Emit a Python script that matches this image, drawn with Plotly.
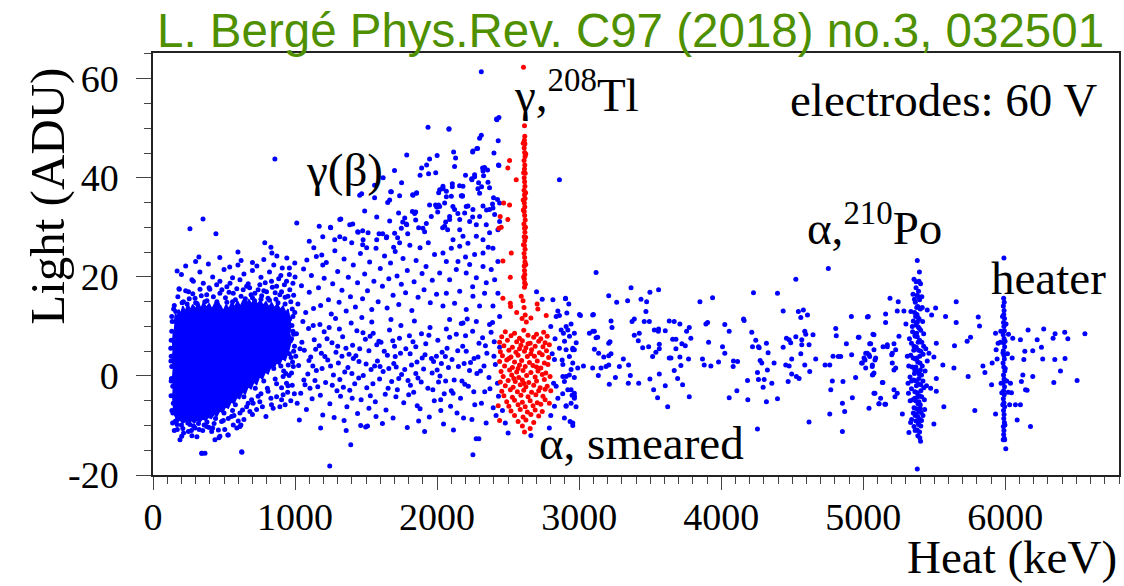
import plotly.graph_objects as go

# ---------------- data (Heat keV, Light ADU) ----------------
# outline of the saturated (solid) low-energy cluster
core_outline = [
    (150, 10.5), (158, 12.6), (170, 11.8), (182, 13.4), (195, 12.5), (210, 14.1), (228, 13.0), (245, 14.6), (262, 13.3),
    (280, 14.4), (300, 13.5), (318, 14.8), (338, 13.6), (356, 14.9), (375, 13.8), (395, 14.6), (415, 13.5), (436, 14.7),
    (455, 13.9), (475, 14.2), (495, 13.1), (515, 14.4), (535, 13.5), (555, 14.9), (575, 13.9), (595, 15.1), (615, 14.0),
    (635, 15.3), (655, 14.3), (675, 15.4), (695, 14.5), (715, 15.6), (735, 14.4), (755, 15.3), (775, 14.2), (795, 15.0),
    (815, 13.9), (835, 14.8), (855, 13.7), (875, 14.6), (895, 13.4), (915, 14.1), (935, 12.8), (950, 13.5), (962, 11.8),
    (970, 10.2), (962, 8.6), (972, 7.0), (958, 5.4), (948, 4.6), (930, 3.1), (910, 3.6), (890, 2.2), (870, 2.8),
    (850, 1.4), (830, 1.9), (810, 0.4), (790, 0.8), (770, -0.6), (750, -0.1), (730, -1.7), (710, -1.2), (690, -2.6),
    (670, -2.1), (650, -3.6), (630, -3.2), (610, -4.6), (590, -4.3), (570, -5.6), (550, -5.2), (530, -6.5), (510, -6.2),
    (490, -7.4), (470, -7.0), (450, -8.1), (430, -7.7), (410, -8.6), (390, -8.3), (370, -9.0), (350, -8.6), (330, -9.3),
    (310, -8.9), (290, -9.5), (270, -9.0), (250, -9.6), (230, -9.1), (210, -9.5), (190, -8.9), (172, -9.2), (158, -8.2),
    (148, -7.6), (143, -5.8), (139, -4.1), (144, -2.3), (138, -0.5), (143, 1.4), (137, 3.2), (142, 5.1), (138, 6.9),
    (144, 8.8),
]

blob_fringe = [
    (185, 17.5), (284, 19.1), (331, 17.5), (354, 18.7), (448, 18.4), (471, 19.1), (542, 18.7), (612, 19.4), (659, 18.1),
    (752, 18.4), (834, 19.1), (870, 18.1), (940, 19.1), (214, 15.0), (296, 15.7), (378, 16.4), (471, 16.7), (565, 16.7),
    (635, 17.4), (717, 16.7), (799, 17.0), (893, 16.4), (963, 17.4), (132, 9.0), (125, 5.6), (132, 1.9), (139, -2.1),
    (143, -5.5), (155, -9.2), (171, -10.8), (190, -12.9), (202, -12.2), (249, -11.2), (296, -10.5), (343, -15.6),
    (366, -15.6), (624, -15.3), (378, -10.2), (413, -11.2), (471, -12.2), (530, -11.9), (565, -9.9), (612, -10.2),
    (553, -8.2), (483, -9.2), (682, -7.2), (729, -6.8), (795, -8.2), (846, -6.5), (893, -6.2), (916, -3.8), (870, -4.2),
    (834, -5.8), (752, -5.2), (694, -4.8), (612, -7.5), (659, -6.2), (940, -1.5), (975, 0.6), (952, 2.2), (916, -0.1),
    (344, -15.6), (626, -15.4), (274, -12.1), (436, -12.9), (464, -12.5), (527, -11.9), (590, -10.5), (619, -9.9),
    (309, -12.3), (352, 31.7), (260, 29.7), (443, 28.7), (323, 24.0), (598, 25.0), (598, 22.4), (274, 19.4), (183, 17.6),
    (787, 26.9), (830, 26.0), (837, 24.8), (872, 24.2), (942, 23.8), (998, 22.8), (731, 22.2), (858, 43.8),
    (200, 20.5), (330, 21.0), (420, 20.0), (500, 21.5), (560, 19.8), (640, 20.6), (700, 21.3), (760, 19.9), (820, 21.0),
    (900, 20.3), (960, 21.8), (250, 17.0), (400, 17.5), (520, 18.0), (680, 17.8), (780, 17.2), (860, 16.8), (930, 15.9),
    (1000, 20.0), (160, 13.0), (240, 14.5), (300, 14.8), (380, 15.2), (450, 15.0), (520, 14.9), (580, 15.4), (650, 15.6),
    (700, 15.8), (760, 15.5), (820, 15.3), (880, 14.8), (930, 14.5), (980, 13.5), (985, 9.0), (990, 5.0), (960, 4.5),
    (900, 2.0), (850, 1.5), (780, -1.0), (720, -2.5), (640, -4.2), (580, -5.8), (500, -7.5), (440, -8.6), (380, -9.3),
    (320, -9.6), (260, -9.8), (200, -9.9), (165, -9.0), (140, -7.5), (128, -1.0), (128, 4.0), (135, 11.0),
    (985, 12.0), (975, 7.5), (982, 2.8), (935, 0.5), (905, -2.4), (860, -0.6), (810, -3.1), (760, -3.6), (705, -5.5),
    (640, -8.8), (560, -7.0), (505, -10.8), (420, -10.5), (350, -11.0), (270, -11.0), (215, -11.5), (150, -11.0),
]

blob_edge_more = [
    (150, 14.2), (175, 16.0), (205, 14.8), (230, 17.2), (255, 15.6), (280, 16.6), (310, 14.6), (340, 16.2), (365, 15.0),
    (395, 17.8), (425, 16.0), (455, 14.4), (485, 17.4), (510, 15.8), (535, 16.9), (560, 15.0), (590, 17.6), (620, 16.1),
    (645, 14.9), (670, 18.6), (690, 16.4), (715, 15.2), (740, 17.4), (765, 16.2), (790, 18.8), (810, 15.7), (840, 17.9),
    (865, 15.5), (885, 19.6), (905, 17.0), (925, 18.4), (950, 16.1), (970, 15.0), (985, 18.7), (990, 16.3), (960, 20.5),
    (910, 21.8), (850, 22.4), (780, 23.5), (700, 22.9), (620, 23.3), (540, 22.0), (470, 23.9), (390, 22.6), (300, 23.1),
    (230, 22.2), (170, 21.2), (962, 11.5), (978, 10.2), (990, 8.4), (968, 7.1), (996, 6.0), (972, 3.7), (988, 1.9),
    (958, 0.1), (980, -1.9), (948, -3.3), (970, -5.0), (930, -5.8), (995, -3.6), (998, 12.8), (170, -9.8), (210, -10.6),
    (245, -9.5), (285, -10.1), (325, -10.8), (360, -9.9), (395, -10.4), (430, -9.6), (460, -10.9), (495, -9.0),
    (530, -8.6), (570, -8.0), (600, -9.1), (630, -6.9), (670, -5.5), (700, -7.8), (740, -4.1), (770, -6.2), (805, -2.5),
    (830, -4.5), (870, -1.6), (905, -4.8), (920, 1.0), (950, -2.0), (132, 12.0), (128, 7.2), (126, 3.0), (130, -0.5),
    (127, -4.0), (133, -7.0), (138, -9.5), (145, 13.5),
]

gamma_low = [
    (1010, 8.5), (1025, 2.1), (1040, -3.5), (1055, 11.0), (1065, 5.2), (1080, -6.8), (1090, 0.4), (1030, -8.9), (1070, -1.8),
    (1095, 9.6), (1110, 3.8), (1120, -4.6), (1135, 7.3), (1150, 1.1), (1160, -2.2), (1175, 10.4), (1185, 4.6), (1195, -7.9),
    (1140, -0.9), (1170, 6.1), (1205, 8.9), (1215, -1.3), (1230, 3.2), (1245, -5.6), (1260, 6.7), (1270, 0.2), (1285, 11.6),
    (1295, -3.0), (1240, 9.8), (1275, -8.4), (1244, -18.2), (1392, -13.9), (1462, -10.0), (1497, -10.3),
    (1305, 2.6), (1320, -4.1), (1335, 7.9), (1350, 0.8), (1365, -6.2), (1380, 4.4), (1395, 10.7), (1315, -0.7), (1345, -9.0),
    (1385, -2.9), (1405, 6.2), (1420, -1.6), (1435, 9.1), (1450, 2.9), (1465, -4.8), (1480, 0.1), (1495, 7.4), (1440, -7.6),
    (1470, 11.8), (1410, 3.5), (1505, -2.4), (1520, 5.1), (1535, 1.3), (1550, 8.6), (1565, -5.2), (1580, 3.0), (1595, -0.6),
    (1540, 10.9), (1570, -8.2), (1510, -10.1), (1605, 6.8), (1620, 0.9), (1635, -3.7), (1650, 4.2), (1665, 9.3), (1680, -1.1),
    (1695, 2.5), (1640, -6.9), (1675, 11.4), (1615, -9.6), (1705, 3.9), (1720, -2.8), (1735, 7.6), (1750, 0.3), (1765, -5.4),
    (1780, 5.5), (1795, -0.9), (1745, 10.2), (1790, -10.4), (1712, 1.8), (1805, 8.1), (1820, 2.2), (1835, -3.3), (1850, 5.9),
    (1865, -0.4), (1880, -6.6), (1895, 3.6), (1840, 11.1), (1870, -9.1), (1812, -1.9), (1905, 1.4), (1920, 6.5), (1935, -2.5),
    (1950, 9.8), (1965, 0.6), (1980, -5.0), (1995, 4.0), (1945, -8.3), (1975, 2.9), (1912, -11.2), (2005, 7.2), (2020, 0.0),
    (2035, 4.8), (2050, -3.6), (2065, 9.5), (2080, 1.7), (2095, -6.1), (2045, -9.7), (2070, 5.6), (2010, -1.2), (2105, 3.3),
    (2120, -0.8), (2135, 8.4), (2150, 1.9), (2165, -4.5), (2180, 6.0), (2195, -1.7), (2140, -7.5), (2170, 10.6), (2115, -10.9),
    (2205, 5.0), (2220, -2.1), (2235, 2.7), (2250, 9.0), (2265, -5.8), (2280, 0.5), (2295, 6.6), (2245, -8.8), (2275, -12.7),
    (2212, 11.5), (2294, -12.7), (2252, -15.9), (2305, 1.0), (2320, 7.7), (2335, -3.2), (2350, 4.6), (2365, -0.3), (2380, 8.8),
    (2395, -6.4), (2410, 2.3), (2425, -1.5), (2440, 5.8), (2345, -9.5), (2415, -8.0), (2390, 10.8),
    (1035, 5.5), (1105, -2.5), (1190, 1.5), (1250, 2.0), (1330, 4.0), (1400, 0.5), (1455, 5.5), (1530, -4.0), (1590, 7.0),
    (1660, 1.5), (1730, -0.5), (1810, 4.5), (1890, 8.5), (1960, 3.5), (2030, 2.5), (2100, -3.0), (2190, 2.5), (2260, 3.5),
    (2330, 2.0), (2400, 4.0), (1015, -5.5), (1125, 2.0), (1300, 6.0), (1560, 2.0), (1700, 6.0), (1850, 0.5), (2060, -1.0),
    (1005, 4.0), (1048, 6.8), (1062, -0.8), (1098, 3.1), (1128, 10.2), (1145, 5.4), (1178, -3.9), (1210, 3.9), (1225, 7.5),
    (1262, -1.9), (1288, 4.8), (1312, 9.5), (1340, -2.3), (1358, 5.6), (1372, 1.7), (1402, -4.5), (1428, 4.1), (1448, -0.4),
    (1478, 8.7), (1500, 2.4), (1528, 8.0), (1548, -1.6), (1575, 6.3), (1598, 1.9), (1628, 5.0), (1655, -2.5), (1688, 7.1),
    (1710, -4.2), (1742, 4.6), (1772, 1.3), (1800, -3.8), (1830, 6.9), (1858, 2.8), (1888, -1.2), (1915, 4.3), (1942, 8.2),
    (1970, -2.8), (2000, 1.2), (2025, -4.8), (2058, 3.9), (2088, 7.8), (2112, -3.5), (2145, 5.1), (2175, -1.0), (2200, 8.1),
    (2228, 1.1), (2258, -3.2), (2288, 3.8), (2312, -5.5), (2340, 6.1), (2372, -2.6), (2402, 6.9), (2432, -4.1),
    (2186, -8.5), (2026, -7.0), (1860, -6.0), (1690, -8.5), (1520, -6.5), (1360, -11.0), (1180, -10.5),
]

gamma_high = [
    (1786, 44.6), (1947, 43.8), (1926, 42.6), (1891, 42.0), (1940, 40.8), (1469, 36.8), (1673, 37.2), (1666, 35.5),
    (1652, 35.0), (1856, 37.0), (1828, 36.6), (2039, 37.8), (2011, 37.0), (1490, 33.3), (1575, 32.1), (1729, 32.9),
    (1849, 33.1), (1947, 34.5), (1997, 34.1), (2004, 33.1), (1012, 30.9), (1322, 31.7), (1251, 29.9), (1195, 28.1),
    (1279, 27.5), (1315, 28.1), (1350, 27.7), (1083, 23.4), (1132, 25.9), (1188, 24.4), (1195, 22.4), (1385, 30.5),
    (1406, 30.7), (1441, 29.1), (1476, 29.3), (1399, 26.9), (1476, 26.5), (1504, 25.9), (1575, 27.5), (1617, 28.7),
    (1645, 28.1), (1666, 31.3), (1758, 31.1), (1772, 31.9), (1849, 31.5), (1870, 29.9), (1912, 29.1), (1786, 30.5),
    (1793, 28.7), (1722, 27.9), (1736, 26.9), (1694, 26.0), (2011, 34.5), (2060, 31.1), (2039, 29.9), (2074, 29.5),
    (1936, 50.2), (2083, 49.8), (1249, 30.0), (1455, 36.5), (1678, 37.2), (1736, 36.4), (1830, 36.5), (1854, 36.9),
    (1826, 33.2), (1842, 32.8), (1514, 28.9), (1591, 28.7), (1643, 27.9), (1701, 28.8), (1748, 29.8), (1783, 30.7),
    (1900, 29.8), (1924, 30.8), (1959, 32.2), (1989, 34.5), (2018, 34.2), (2065, 36.2), (2111, 34.2), (2088, 32.2),
    (2146, 32.8), (2177, 36.3), (2205, 34.2), (2107, 38.2), (2041, 37.9), (1315, 31.6), (1444, 29.0), (1479, 27.5),
    (2311, 61.4), (2421, 51.7), (2435, 52.2), (2084, 49.9), (2311, 48.6), (2299, 48.0), (2280, 45.9), (2252, 45.4),
    (2116, 45.2), (2130, 44.0), (2123, 42.3), (2435, 42.5), (2334, 42.1), (2323, 41.4), (2264, 40.2), (2245, 39.6),
    (2287, 37.8), (2299, 36.9), (2369, 38.0), (2358, 39.1), (2182, 38.3), (2170, 36.4), (2107, 38.8), (2065, 37.3),
    (2041, 38.3), (2440, 34.9), (2393, 33.9), (2405, 32.6), (2440, 31.2), (2428, 29.5), (2018, 37.6), (2053, 34.9),
    (2100, 36.3), (2123, 33.6), (2194, 32.9), (2159, 31.6), (2217, 34.3), (2252, 33.6), (2323, 34.3), (2299, 32.2),
    (2369, 33.6), (2346, 30.5), (2276, 30.5), (2229, 31.2), (2159, 29.5), (2088, 31.6), (2053, 30.2), (2112, 27.5),
    (2182, 28.2), (2276, 28.2), (2323, 27.5), (2369, 28.9), (2393, 25.8), (2323, 24.8), (2264, 24.5), (2217, 26.8),
    (2159, 26.2), (2100, 25.8), (2041, 24.8), (2065, 23.1), (2147, 23.1), (2229, 22.5), (2323, 22.1), (2381, 21.5),
    (2428, 23.1), (2018, 20.8), (2088, 19.4), (2135, 21.5), (2205, 20.8), (2276, 19.8), (2346, 18.8), (2405, 19.4),
    (2065, 16.7), (2159, 17.1), (2252, 16.1), (2334, 16.7), (2428, 16.7), (2041, 14.1), (2123, 14.7), (2205, 13.4),
    (2299, 14.1), (2393, 14.1), (2440, 12.0), (2088, 11.4), (2182, 10.7), (2276, 11.0), (2369, 10.4), (2418, 51.9),
    (2285, 45.9), (2250, 45.2), (2432, 42.6), (2320, 42.0), (2355, 41.6), (2264, 40.6), (2243, 39.8), (2327, 40.4),
    (2292, 39.0), (2313, 38.2), (2158, 38.4), (2179, 36.4), (2397, 36.0), (2425, 35.6), (2390, 34.7), (2348, 33.5),
    (2250, 32.1), (1020, 14.5), (1045, 18.2), (1060, 21.6), (1075, 12.8), (1100, 16.9), (1115, 20.3), (1130, 13.6),
    (1150, 24.1), (1165, 17.8), (1180, 14.2), (1205, 19.7), (1220, 22.9), (1235, 15.4), (1255, 12.5), (1265, 18.6),
    (1280, 25.3), (1300, 21.1), (1310, 14.9), (1330, 17.3), (1345, 23.6), (1360, 13.1), (1375, 19.9), (1390, 16.0),
    (1410, 22.4), (1425, 13.9), (1440, 18.8), (1460, 24.7), (1475, 15.6), (1490, 20.6), (1510, 17.2), (1525, 23.0),
    (1540, 13.4), (1555, 19.1), (1570, 25.8), (1585, 15.0), (1600, 21.7), (1615, 18.1), (1630, 24.2), (1648, 13.7),
    (1660, 19.6), (1672, 22.8), (1690, 16.3), (1705, 25.1), (1718, 20.2), (1730, 14.4), (1748, 18.5), (1760, 23.7),
    (1778, 16.8), (1790, 21.3), (1808, 26.4), (1822, 13.2), (1838, 19.0), (1852, 23.3), (1866, 15.9), (1880, 25.9),
    (1894, 20.7), (1908, 17.4), (1922, 22.1), (1938, 26.9), (1952, 14.8), (1966, 19.3), (1982, 24.5), (1996, 16.5),
    (1100, 27.2), (1170, 30.2), (1560, 38.5), (1620, 40.0), (1700, 41.5), (1750, 39.0), (1880, 40.5), (1990, 41.0),
    (2000, 44.5), (1560, 36.0), (2430, 47.5), (2400, 45.0), (2200, 40.5), (2360, 26.0), (2200, 24.0), (2250, 18.0),
]

blue_near_tl = [
    (2815, 15.4), (2904, 15.7), (2850, 13.1), (2838, 12.0), (2873, 9.3), (2908, 10.0), (2932, 8.0), (2897, 7.0),
    (2861, 5.6), (2955, 5.3), (2979, 6.7), (2826, 3.3), (2885, 2.3), (2943, 1.3), (2885, -0.1), (2838, -2.1),
    (2943, -2.8), (2967, -4.1), (2908, -6.1), (2955, -9.5), (2826, -6.1), (3002, 12.4), (3100, 12.4), (3096, 9.0),
    (3119, 7.7), (2861, 39.6), (3119, 20.9), (2903, 15.6), (2927, 14.5), (2913, 12.7), (2861, 12.2), (2943, 10.5),
    (2920, 9.3), (2889, 8.6), (2966, 8.6), (2955, 5.6), (2908, 5.3), (2966, 5.3), (2931, 3.9), (2955, 2.6),
    (2880, 3.2), (2931, 0.2), (2908, -0.1), (2966, -0.3), (2896, -1.1), (2920, -2.8), (2966, -3.5), (2884, -3.6),
    (2950, -3.9), (2966, -4.5), (2943, -5.5), (2978, -6.2), (2908, -6.0), (2896, -8.5), (2936, -9.2), (2955, -10.0),
    (3009, 12.2), (3030, 2.0), (2990, 1.6), (2810, 4.5), (2820, -1.5), (2830, 7.5), (2800, -8.0), (2790, -10.5),
    (2850, -4.5), (2800, 10.0), (2480, -9.5), (2460, -7.0), (2500, -11.5), (2700, 17.0), (2740, 15.5), (2660, -12.0),
]

red_tl = [
    (2608, 62.3), (2615, 50.5), (2617, 48.4), (2614, 47.6), (2618, 46.9), (2613, 46.0), (2616, 45.1), (2619, 44.3),
    (2612, 43.5), (2617, 42.6), (2615, 41.8), (2620, 40.9), (2613, 40.0), (2616, 39.2), (2618, 38.3), (2612, 37.5),
    (2615, 36.6), (2619, 35.8), (2614, 34.9), (2617, 34.1), (2613, 33.2), (2616, 32.4), (2620, 31.5), (2611, 30.7),
    (2615, 29.8), (2618, 29.0), (2613, 28.1), (2617, 27.3), (2614, 26.4), (2619, 25.6), (2612, 24.7), (2616, 23.9),
    (2618, 23.0), (2613, 22.2), (2615, 21.3), (2617, 20.5), (2614, 19.6), (2616, 18.8), (2615, 17.9),
    (2606, 47.0), (2624, 44.8), (2609, 41.0), (2623, 37.0), (2607, 33.5), (2622, 30.0), (2608, 26.5), (2624, 22.5),
    (2609, 20.0), (2621, 18.5), (2606, 35.5), (2623, 28.0),
    (2510, 43.5), (2498, 42.0), (2557, 39.6), (2468, 34.9), (2510, 34.5), (2444, 32.2), (2498, 31.6), (2451, 30.0),
    (2435, 29.8), (2522, 24.8), (2463, 23.2), (2515, 19.9), (2463, 15.7), (2515, 14.7), (2517, 14.0), (2592, 16.1),
    (2704, 14.5), (2709, 13.5), (2768, 12.2), (2605, 15.2), (2612, 13.8), (2620, 12.3), (2598, 11.6), (2628, 10.9),
    (2560, 12.8), (2660, 11.7),
]

red_alpha = [
    (2480, 8.9), (2545, 8.6), (2610, 9.2), (2700, 8.4), (2750, 8.8), (2455, 7.9), (2520, 8.1), (2580, 7.6), (2640, 8.2),
    (2680, 7.8), (2730, 7.5), (2775, 8.0), (2440, 6.8), (2495, 7.2), (2560, 6.9), (2600, 7.1), (2655, 6.6), (2715, 7.0),
    (2760, 6.7), (2470, 6.1), (2530, 5.8), (2590, 6.2), (2625, 5.7), (2690, 6.0), (2745, 5.9), (2790, 6.3), (2445, 4.9),
    (2505, 5.2), (2555, 4.8), (2615, 5.0), (2665, 5.3), (2720, 4.7), (2770, 5.1), (2460, 4.1), (2520, 3.8), (2570, 4.2),
    (2635, 3.9), (2685, 4.0), (2740, 4.3), (2785, 3.7), (2440, 2.9), (2490, 3.2), (2545, 2.8), (2595, 3.1), (2650, 2.7),
    (2705, 3.0), (2755, 2.6), (2475, 2.0), (2530, 1.7), (2580, 2.2), (2620, 1.9), (2675, 2.1), (2730, 1.6), (2780, 2.3),
    (2450, 0.9), (2510, 1.2), (2560, 0.8), (2605, 1.1), (2660, 0.7), (2710, 1.0), (2765, 0.6), (2465, -0.1), (2525, 0.2),
    (2575, -0.3), (2630, 0.1), (2690, -0.2), (2740, 0.3), (2795, -0.1), (2445, -1.2), (2500, -0.9), (2550, -1.1),
    (2600, -0.8), (2645, -1.3), (2700, -1.0), (2755, -0.7), (2480, -2.0), (2535, -2.3), (2585, -1.8), (2625, -2.2),
    (2680, -1.9), (2725, -2.4), (2775, -2.1), (2455, -3.1), (2515, -2.8), (2565, -3.2), (2610, -2.9), (2665, -3.3),
    (2715, -3.0), (2760, -2.7), (2470, -4.0), (2530, -4.3), (2590, -3.9), (2640, -4.2), (2695, -3.8), (2745, -4.1),
    (2490, -5.2), (2545, -4.9), (2600, -5.3), (2655, -5.0), (2705, -5.4), (2760, -4.8), (2505, -6.1), (2570, -5.8),
    (2620, -6.2), (2675, -6.0), (2730, -5.7), (2520, -7.1), (2585, -6.8), (2635, -7.3), (2690, -6.9), (2740, -7.2),
    (2545, -8.0), (2605, -8.3), (2660, -7.8), (2715, -8.1), (2570, -9.2), (2625, -8.9), (2680, -9.4), (2600, -10.1),
    (2655, -10.6), (2615, -11.3), (2430, -6.0), (2440, -9.0), (2790, -5.5), (2800, -3.0),
    (2505, 3.5), (2580, 5.5), (2660, 4.5), (2540, -0.5), (2700, 1.8), (2610, -1.5), (2570, 1.5), (2640, 6.5),
]

high_energy = [
    (3095, 12.3), (3107, 9.0), (3130, 7.8), (3072, 8.6), (3107, 5.4), (3137, 4.6), (3095, 1.6), (3154, 1.6), (3135, 0.1),
    (3212, -1.7), (3208, 2.2), (3189, 1.9), (3224, 4.5), (3208, 4.1), (3173, 3.8), (3311, 3.4), (3283, 1.9), (3255, -0.3),
    (3348, 2.2), (3360, 0.1), (3346, -1.5), (3419, -1.5), (3208, 16.2), (3264, 14.9), (3341, 15.2), (3365, 17.8),
    (3435, 15.5), (3475, 15.0), (3470, 13.0), (3498, 16.9), (3559, 17.4), (3224, 11.1), (3231, 9.8), (3217, 6.9),
    (3208, 6.6), (3372, 11.0), (3388, 11.5), (3423, 8.6), (3458, 11.0), (3494, 11.0), (3388, 8.2), (3416, 7.1),
    (3447, 5.7), (3489, 5.9), (3517, 3.9), (3540, 4.8), (3564, 5.5), (3564, 6.4), (3559, 9.5), (3529, 9.3), (3557, 9.0),
    (3606, 9.1), (3634, 11.1), (3669, 11.0), (3709, 10.5), (3658, 7.4), (3681, 7.4), (3681, 5.5), (3723, 6.5),
    (3747, 6.1), (3786, 7.6), (3775, 9.8), (3756, 9.0), (3634, 3.6), (3646, 3.6), (3709, 3.8), (3770, 3.4), (3716, 2.1),
    (3669, 1.1), (3564, 0.4), (3498, -0.6), (3524, -2.8), (3552, -4.4), (3623, -6.2), (3693, -0.5), (3728, -1.8),
    (3775, -4.2), (3606, -2.0), (3850, 15.0), (3939, 15.8), (3892, 10.5), (3911, 6.8), (3868, 3.4), (3880, 2.2),
    (3927, 2.0), (3904, 10.8), (3981, 2.8), (4009, 5.9), (4025, 4.6), (4025, 10.4), (4056, 9.0), (4086, 3.0),
    (4115, 2.9), (4084, 1.9), (4056, -4.4), (4110, -3.0), (4157, 11.5), (4161, 11.2), (4185, -0.9), (4187, -4.8),
    (4215, 8.8), (4220, 5.9), (4243, 7.2), (4262, 5.9), (4255, 0.7), (4262, -0.7), (4267, 5.7), (4274, 3.1),
    (4286, 2.6), (4302, -0.7), (4295, -2.3), (4318, 6.6), (4330, 4.7), (4325, 1.2), (4356, -1.5), (4318, -5.2),
    (4396, -4.6), (4372, 2.6), (4227, 16.8), (4255, -10.7), (4396, 16.7), (4436, 13.1), (4543, 13.0), (4578, 13.3),
    (4560, 11.8), (4607, 12.3), (4525, 7.9), (4459, 7.6), (4489, 6.7), (4478, 7.3), (4436, 5.8), (4496, 3.4),
    (4454, 2.2), (4478, 2.0), (4588, 9.0), (4595, 8.4), (4567, 7.3), (4567, 6.3), (4618, 6.3), (4646, 8.3),
    (4560, 4.5), (4588, 2.2), (4623, 0.9), (4496, 0.4), (4529, -0.1), (4548, -0.5), (4471, -1.1), (4618, -9.3),
    (4665, 3.4), (4525, 19.5), (4754, 21.7), (4731, 2.2), (4764, 2.2), (4787, 4.0), (4824, 3.9), (4841, 3.9),
    (4806, 9.6), (4810, 8.1), (4782, -1.0), (4771, -2.8), (4764, -7.7), (4857, -1.1), (4853, -5.5), (4869, -7.2),
    (4853, -11.2), (4923, -4.4), (4916, 12.0), (4881, 6.5), (4918, 4.3), (4946, -0.3), (4965, 7.8), (4988, 2.6),
    (5012, 3.2), (5028, 4.6), (5035, 12.0), (5045, 6.5), (5045, 3.9), (5063, 1.9), (5082, 3.2), (5075, 8.3),
    (5068, 0.3), (5040, -6.5), (5082, -3.5), (5122, -4.5), (5110, -5.6), (5152, -5.7), (5138, -1.3), (5169, 5.9),
    (5157, 10.8), (5157, 12.5), (5188, 15.7), (5204, 4.6), (5204, 2.6), (5216, 1.2), (5216, -2.8), (5223, -4.2),
]

po_heater_side = [
    (4970, 7.8), (5029, 11.9), (5246, 15.0), (5239, 13.1), (5286, 13.1), (5068, 8.4), (5052, 6.5), (5075, 5.3),
    (5017, 4.6), (5040, 4.3), (5087, 3.6), (5005, 3.6), (4993, 2.6), (5017, 1.6), (5064, 2.2), (5075, 0.6), (5064, 0.2),
    (5139, 5.9), (5169, 6.3), (5216, 6.5), (5251, 8.0), (5200, 4.3), (5228, 5.3), (5228, 1.6), (5134, -1.3),
    (5239, -3.5), (5075, -3.5), (5157, -5.7), (5111, -5.6), (5275, -7.7), (5333, -9.4), (5357, -10.2), (5321, -11.4),
    (5403, -13.2), (5450, 13.3), (5481, 12.3), (5509, 13.7), (5579, 12.0), (5654, 15.0), (5654, 10.8), (5514, 6.6),
    (5462, 4.6), (5497, 3.8), (5514, -0.5), (5474, -2.5), (5514, -3.1), (5560, 2.2), (5638, 1.6), (5642, 6.1),
    (5567, -6.2), (5497, -9.7), (5380, -18.8), (5731, 7.0), (5755, 7.8), (5738, -0.1), (5785, -7.0), (5809, 11.9),
    (5818, 10.1), (5842, 2.0), (5856, 0.7), (5907, 2.6), (5903, -1.8), (5931, 8.6), (5935, 5.3), (5942, 3.4),
    (5949, 6.6), (5931, -7.7), (6052, 7.6), (6048, 3.6), (6036, -1.5), (6043, -3.4), (6071, -5.8), (6106, -5.8),
    (6083, -8.9), (6106, 7.3), (6137, 5.0), (6130, 3.3), (6123, 0.2), (6113, -1.1), (6142, -2.8), (6153, -2.9),
    (6160, 9.3), (6177, -10.2), (6193, 5.1), (6193, -0.1), (6224, 7.3), (6254, 5.8), (6263, 3.4), (6336, 7.6),
    (6348, 3.3), (6388, 1.0), (6341, -1.3), (6418, 8.8), (6505, -0.9), (6270, 9.5), (6350, 8.5), (6440, 7.5),
    (6560, 8.5), (6420, 3.5),
]

po_line = [
    (5380, 23.3), (5357, 19.5), (5392, 19.1), (5403, 18.6), (5371, 17.8), (5389, 17.1), (5379, 16.3), (5396, 15.4),
    (5366, 14.9), (5384, 14.0), (5401, 13.5), (5361, 12.8), (5378, 12.4), (5393, 11.5), (5352, 11.1), (5371, 10.3),
    (5387, 9.9), (5404, 9.2), (5347, 8.9), (5364, 8.2), (5380, 7.9), (5396, 7.2), (5412, 6.8), (5339, 6.6), (5357, 6.0),
    (5373, 5.8), (5389, 5.2), (5405, 5.0), (5421, 4.4), (5334, 4.2), (5351, 3.6), (5367, 3.4), (5383, 2.8), (5399, 2.6),
    (5415, 2.0), (5344, 1.8), (5362, 1.2), (5378, 1.0), (5394, 0.4), (5410, 0.2), (5329, -0.2), (5356, -0.8),
    (5372, -1.0), (5388, -1.6), (5404, -1.8), (5426, -2.4), (5339, -2.6), (5363, -3.2), (5379, -3.4), (5395, -4.0),
    (5411, -4.2), (5349, -4.8), (5369, -5.0), (5385, -5.6), (5401, -5.8), (5357, -6.4), (5375, -6.6), (5391, -7.2),
    (5407, -7.4), (5365, -8.0), (5383, -8.2), (5399, -8.8), (5371, -9.1), (5389, -9.8), (5405, -10.1), (5379, -10.9),
    (5396, -11.3), (5384, -12.1), (5378, 3.6), (5386, 6.8), (5374, -2.0), (5392, -0.5), (5381, 10.9), (5366, 8.0),
    (5397, 4.0), (5383, -4.2), (5370, 1.8), (5400, -6.5), (5376, 13.8), (5390, 16.0), (5320, 2.0), (5315, -1.5),
    (5435, 1.0), (5430, -4.8), (5325, 7.5), (5440, 5.5), (5345, 10.0), (5418, 11.0), (5352, -7.5), (5410, -9.0),
    (5330, -5.0), (5420, -1.0), (5360, 15.5), (5395, 21.0),
    (5300, 10.5), (5310, 4.0), (5318, -3.5), (5335, 13.0), (5340, -8.8), (5350, 16.5), (5365, -11.0), (5372, 19.0),
    (5398, -12.5), (5415, 13.8), (5425, 8.5), (5432, -6.8), (5445, -2.0), (5450, 3.0), (5412, 16.0), (5360, 0.5),
    (5385, 11.8), (5370, -7.7), (5395, 9.6), (5405, -3.0), (5355, 5.2), (5420, -8.0), (5340, -1.0), (5425, 6.0),
    (5388, -9.5), (5362, -4.5), (5402, 1.2), (5375, 8.6), (5392, -5.2), (5368, 12.0),
]

heater_line = [
    (5990, 23.8), (5988, 15.7), (5992, 14.9), (5986, 14.1), (5991, 13.2), (5989, 12.4), (5994, 11.6), (5987, 10.8),
    (5990, 10.0), (5993, 9.1), (5985, 8.3), (5991, 7.5), (5988, 6.7), (5995, 5.9), (5986, 5.1), (5990, 4.2), (5993, 3.4),
    (5984, 2.6), (5989, 1.8), (5996, 1.0), (5987, 0.2), (5991, -0.6), (5985, -1.4), (5994, -2.2), (5988, -3.0),
    (5992, -3.8), (5986, -4.6), (5990, -5.4), (5995, -6.2), (5987, -7.0), (5991, -7.8), (5989, -8.6), (5993, -9.4),
    (5986, -10.2), (5990, -11.0), (5988, -11.8), (5992, -12.6), (5985, -12.9), (5995, -12.9), (6003, -14.7),
    (5965, 6.8), (6015, 4.5), (5970, -1.5), (6010, -1.0), (6020, -3.3), (5975, -3.4), (6022, 8.4), (5968, 9.0),
    (6005, 10.5), (5980, 12.0), (6030, -5.8), (5998, 7.0), (5982, -5.8), (5997, -9.9), (5983, 4.7), (5999, 1.5),
]

blue_groups = [blob_fringe, blob_edge_more, gamma_low, gamma_high, blue_near_tl, high_energy, po_heater_side,
               po_line, heater_line]
red_groups = [red_alpha, red_tl]

x_tick_vals = [0, 1000, 2000, 3000, 4000, 5000, 6000]
y_tick_vals = [-20, 0, 20, 40, 60]
y_tick_text = ["-20", "0", "20", "40", "60"]

BLUE = "#0000ff"
RED = "#ff0000"
SERIF = "Liberation Serif, Times New Roman, serif"

fig = go.Figure()
fig.add_trace(go.Scatter(x=[p[0] for p in core_outline], y=[p[1] for p in core_outline], mode="lines",
                         fill="toself", fillcolor=BLUE, line=dict(color=BLUE, width=1.5), hoverinfo="skip"))

bx = [p[0] for g in blue_groups for p in g]
by = [p[1] for g in blue_groups for p in g]
fig.add_trace(go.Scatter(x=bx, y=by, mode="markers", marker=dict(color=BLUE, size=5, line=dict(width=0))))
rx = [p[0] for g in red_groups for p in g]
ry = [p[1] for g in red_groups for p in g]
fig.add_trace(go.Scatter(x=rx, y=ry, mode="markers", marker=dict(color=RED, size=5, line=dict(width=0))))

axis_common = dict(showline=True, linecolor="#222", linewidth=1.5, mirror=True, ticks="outside",
                   tickwidth=1.2, tickcolor="#444", showgrid=False, zeroline=False,
                   tickfont=dict(family=SERIF, size=38, color="black"))
fig.update_xaxes(range=[0, 6800], tickvals=x_tick_vals, ticklen=13, ticklabelstandoff=-5,
                 minor=dict(dtick=100, ticklen=7, tickwidth=1.2, tickcolor="#444", ticks="outside"), **axis_common)
fig.update_yaxes(range=[-20, 65.2], tickvals=y_tick_vals, ticktext=y_tick_text, ticklen=15, ticklabelstandoff=10,
                 minor=dict(dtick=5, ticklen=7, tickwidth=1.2, tickcolor="#444", ticks="outside"), **axis_common)

ann_font = dict(family=SERIF, size=47, color="black")
annotations = [
    dict(x=1350, y=41.6, text="γ(β)"),
    dict(x=2981, y=57.5, text="γ,<sup>208</sup>Tl"),
    dict(x=5568, y=55.8, text="electrodes: 60 V"),
    dict(x=5076, y=30.5, text="α,<sup>210</sup>Po"),
    dict(x=6306, y=19.8, text="heater"),
    dict(x=3438, y=-13.5, text="α, smeared"),
]
for a in annotations:
    fig.add_annotation(xref="x", yref="y", showarrow=False, font=ann_font, xanchor="center", yanchor="middle", **a)

fig.add_annotation(xref="paper", yref="paper", x=1.0, y=-0.1943, xanchor="right", yanchor="middle",
                   text="Heat (keV)", showarrow=False, font=dict(family=SERIF, size=47, color="black"))
fig.add_annotation(xref="paper", yref="paper", x=-0.11, y=0.661, xanchor="center", yanchor="middle",
                   text="Light (ADU)", textangle=-90, showarrow=False, font=dict(family=SERIF, size=49, color="black"))
fig.add_annotation(xref="paper", yref="paper", x=0.002, y=1.0545, xanchor="left", yanchor="middle",
                   text="L. Bergé Phys.Rev. C97 (2018) no.3, 032501", showarrow=False,
                   font=dict(family="Liberation Sans, Arial, sans-serif", size=47.5, color="#4f9000"))

fig.update_layout(width=1124, height=586, margin=dict(l=153, r=3, t=53, b=111),
                  paper_bgcolor="white", plot_bgcolor="white", showlegend=False)

fig.write_html("out.html")
